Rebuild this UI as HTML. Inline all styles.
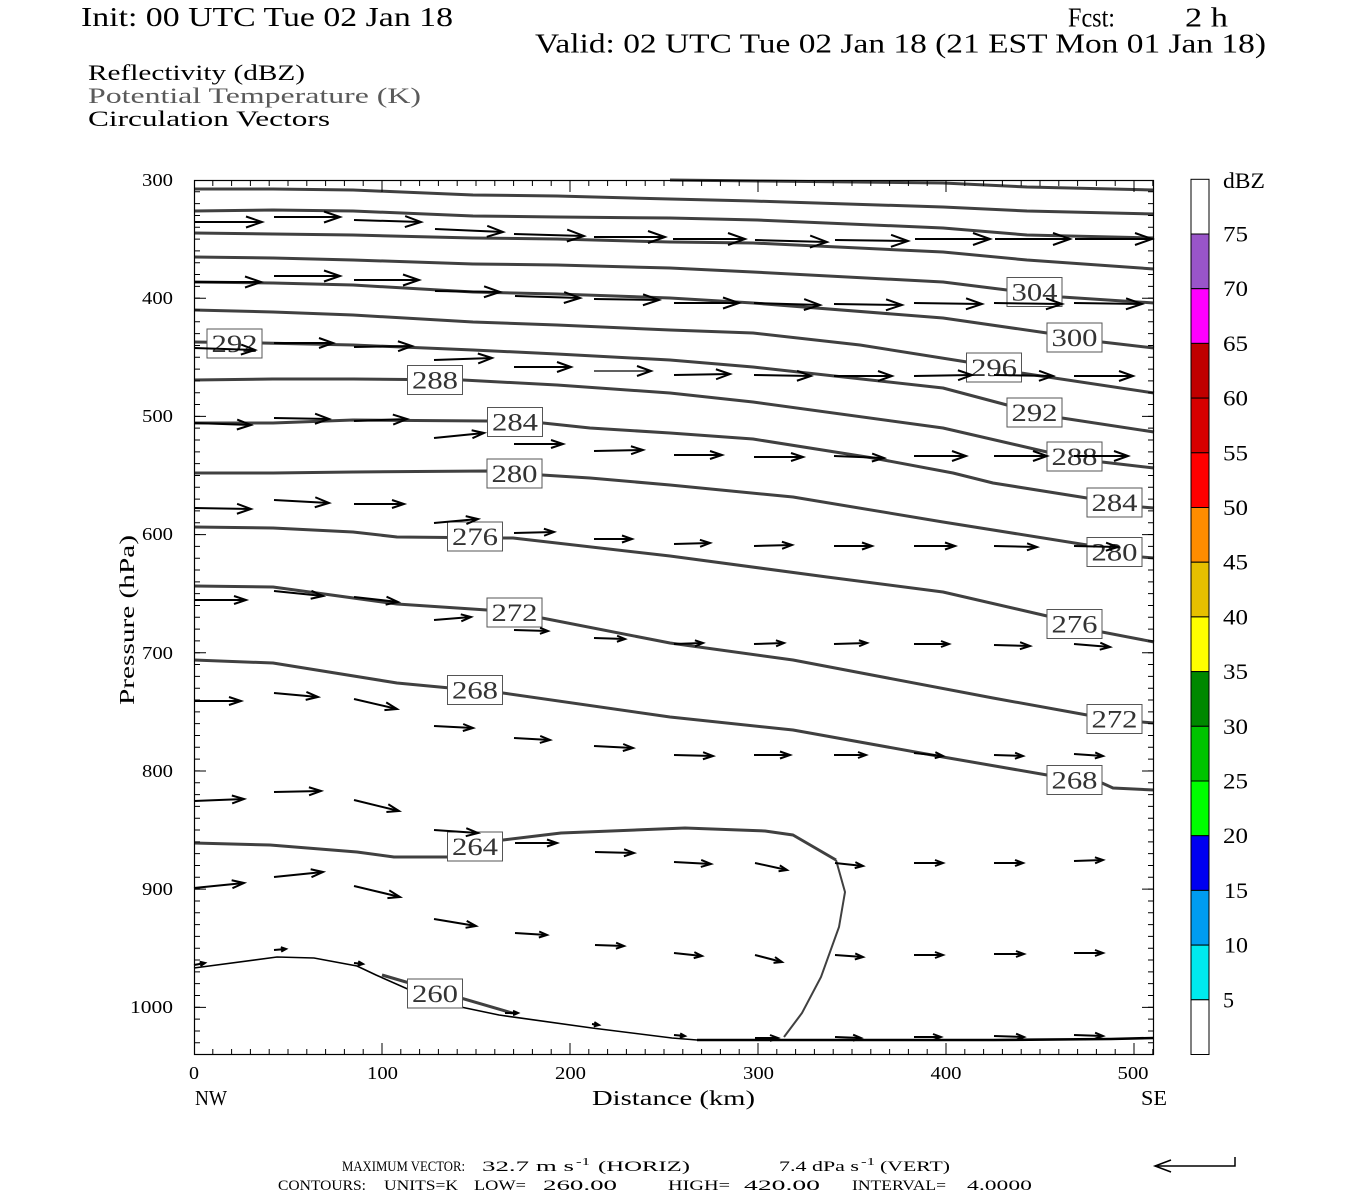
<!DOCTYPE html>
<html><head><meta charset="utf-8"><style>
html,body{margin:0;padding:0;background:#fff;}
svg{display:block;}
text{font-family:"Liberation Serif",serif;}
</style></head><body>
<svg width="1350" height="1200" viewBox="0 0 1350 1200" xmlns="http://www.w3.org/2000/svg">
<defs>
<marker id="a17" markerWidth="1" markerHeight="1" refX="0" refY="0" orient="auto" markerUnits="userSpaceOnUse" style="overflow:visible"><path d="M-17,-6 L0,0 L-17,6" fill="none" stroke="#000" stroke-width="2"/></marker>
<marker id="a16" markerWidth="1" markerHeight="1" refX="0" refY="0" orient="auto" markerUnits="userSpaceOnUse" style="overflow:visible"><path d="M-16,-5.5 L0,0 L-16,5.5" fill="none" stroke="#000" stroke-width="2"/></marker>
<marker id="a14" markerWidth="1" markerHeight="1" refX="0" refY="0" orient="auto" markerUnits="userSpaceOnUse" style="overflow:visible"><path d="M-14,-5 L0,0 L-14,5" fill="none" stroke="#000" stroke-width="2"/></marker>
<marker id="a12" markerWidth="1" markerHeight="1" refX="0" refY="0" orient="auto" markerUnits="userSpaceOnUse" style="overflow:visible"><path d="M-12,-4 L0,0 L-12,4" fill="none" stroke="#000" stroke-width="2"/></marker>
<marker id="a10" markerWidth="1" markerHeight="1" refX="0" refY="0" orient="auto" markerUnits="userSpaceOnUse" style="overflow:visible"><path d="M-10,-3.5 L0,0 L-10,3.5" fill="none" stroke="#000" stroke-width="2"/></marker>
<marker id="a8" markerWidth="1" markerHeight="1" refX="0" refY="0" orient="auto" markerUnits="userSpaceOnUse" style="overflow:visible"><path d="M-8,-3 L0,0 L-8,3" fill="none" stroke="#000" stroke-width="2"/></marker>
<marker id="a5" markerWidth="1" markerHeight="1" refX="0" refY="0" orient="auto" markerUnits="userSpaceOnUse" style="overflow:visible"><path d="M-5,-2.2 L0,0 L-5,2.2" fill="none" stroke="#000" stroke-width="2"/></marker>
</defs>

<!-- Titles -->
<text x="81" y="26" font-size="27" textLength="372" lengthAdjust="spacingAndGlyphs">Init: 00 UTC Tue 02 Jan 18</text>
<text x="1068" y="26.5" font-size="27" textLength="47" lengthAdjust="spacingAndGlyphs">Fcst:</text>
<text x="1185" y="26.5" font-size="27" textLength="43" lengthAdjust="spacingAndGlyphs">2 h</text>
<text x="535" y="52.5" font-size="27" textLength="731" lengthAdjust="spacingAndGlyphs">Valid: 02 UTC Tue 02 Jan 18 (21 EST Mon 01 Jan 18)</text>
<text x="88" y="80" font-size="22" textLength="217" lengthAdjust="spacingAndGlyphs">Reflectivity (dBZ)</text>
<text x="88" y="103" font-size="22" fill="#5a5a5a" textLength="333" lengthAdjust="spacingAndGlyphs">Potential Temperature (K)</text>
<text x="88" y="126" font-size="22" textLength="242" lengthAdjust="spacingAndGlyphs">Circulation Vectors</text>

<!-- Contours -->
<g fill="none" stroke="#404040" stroke-width="3" stroke-linejoin="round">
<path d="M670,180 L760,181 L943,183 L1027,187 L1154,190"/>
<path d="M194,189 L273,189 L353,190 L473,195 L557,196 L670,199 L753,201 L943,207 L1027,211 L1154,214"/>
<path d="M194,211 L273,210 L353,211 L473,216 L557,217 L670,218 L757,220 L943,228 L1027,235 L1154,238"/>
<path d="M194,233 L273,234 L353,235 L473,238 L557,239 L670,242 L753,243 L943,252 L1027,260 L1154,269"/>
<path d="M194,257 L273,258 L353,260 L473,264 L557,265 L670,268 L753,272 L943,282 L1007,290 L1062,297 L1154,303"/>
<path d="M194,282 L273,283 L353,285 L473,292 L557,294 L670,298 L753,303 L943,318 L1047,333 L1102,342 L1154,348"/>
<path d="M194,310 L273,312 L353,315 L473,322 L557,325 L670,330 L753,333 L860,345 L967,362 L1021,373 L1154,393"/>
<path d="M194,342 L262,343 L353,345 L473,350 L557,354 L670,360 L753,367 L943,388 L1007,405 L1062,418 L1154,432"/>
<path d="M194,380 L273,379 L353,379 L463,380 L557,385 L670,393 L753,402 L943,428 L1047,452 L1102,462 L1154,468"/>
<path d="M194,423 L273,423 L353,420 L487,421 L543,423 L590,428 L670,433 L753,439 L873,458 L953,473 L993,483 L1087,498 L1142,507 L1154,508"/>
<path d="M194,473 L273,473 L353,472 L487,471 L542,475 L590,478 L670,485 L793,497 L943,522 L1087,545 L1142,557 L1154,558"/>
<path d="M194,527 L273,528 L353,532 L397,537 L503,538 L513,538 L670,556 L827,577 L943,592 L1047,616 L1102,632 L1154,642"/>
<path d="M194,586 L273,587 L397,604 L487,610 L542,618 L670,643 L793,660 L993,698 L1087,715 L1142,722 L1154,723"/>
<path d="M194,660 L273,663 L397,683 L503,693 L670,717 L793,730 L943,757 L1047,775 L1102,783 L1113,788 L1154,790"/>
<path d="M194,843 L270,845 L357,852 L394,857 L447,857 L503,840 L561,833 L685,828 L765,831 L793,835 L836,860"/>
<path d="M382,975 L512,1013"/>
</g>
<path d="M836,860 L845,892 L839,927 L821,977 L802,1013 L784,1037" fill="none" stroke="#404040" stroke-width="2"/>
<!-- terrain -->
<path d="M194,968 L277,957 L314,958 L357,966 L376,975 L437,1002 L499,1015 L592,1028 L672,1038 L697,1040 L994,1040 L1111,1039 L1154,1038" fill="none" stroke="#000" stroke-width="1.6"/>
<path d="M697,1040 L994,1040 L1111,1039 L1154,1038" fill="none" stroke="#000" stroke-width="2.6"/>

<!-- Contour labels -->
<g fill="#fff" stroke="#555" stroke-width="1">
<rect x="207" y="329" width="55" height="29"/>
<rect x="407.5" y="365.5" width="55" height="29"/>
<rect x="487.5" y="407.5" width="55" height="29"/>
<rect x="487" y="459" width="55" height="29"/>
<rect x="447.5" y="522" width="55" height="29"/>
<rect x="487" y="598" width="55" height="29"/>
<rect x="447.5" y="675.5" width="55" height="29"/>
<rect x="447.5" y="832" width="55" height="29"/>
<rect x="407.5" y="979" width="55" height="29"/>
<rect x="1007" y="277.5" width="55" height="29"/>
<rect x="1047" y="323" width="55" height="29"/>
<rect x="966.5" y="353" width="55" height="29"/>
<rect x="1007" y="398" width="55" height="29"/>
<rect x="1047" y="442" width="55" height="29"/>
<rect x="1087" y="488" width="55" height="29"/>
<rect x="1087" y="537.5" width="55" height="29"/>
<rect x="1047" y="609.5" width="55" height="29"/>
<rect x="1087" y="704.5" width="55" height="29"/>
<rect x="1047" y="765.5" width="55" height="29"/>
</g>
<g font-size="25" fill="#333" text-anchor="middle">
<text x="234.5" y="352" textLength="46" lengthAdjust="spacingAndGlyphs">292</text>
<text x="435" y="388.5" textLength="46" lengthAdjust="spacingAndGlyphs">288</text>
<text x="515" y="430.5" textLength="46" lengthAdjust="spacingAndGlyphs">284</text>
<text x="514.5" y="482" textLength="46" lengthAdjust="spacingAndGlyphs">280</text>
<text x="475" y="545" textLength="46" lengthAdjust="spacingAndGlyphs">276</text>
<text x="514.5" y="621" textLength="46" lengthAdjust="spacingAndGlyphs">272</text>
<text x="475" y="698.5" textLength="46" lengthAdjust="spacingAndGlyphs">268</text>
<text x="475" y="855" textLength="46" lengthAdjust="spacingAndGlyphs">264</text>
<text x="435" y="1002" textLength="46" lengthAdjust="spacingAndGlyphs">260</text>
<text x="1034.5" y="300.5" textLength="46" lengthAdjust="spacingAndGlyphs">304</text>
<text x="1074.5" y="346" textLength="46" lengthAdjust="spacingAndGlyphs">300</text>
<text x="994" y="376" textLength="46" lengthAdjust="spacingAndGlyphs">296</text>
<text x="1034.5" y="421" textLength="46" lengthAdjust="spacingAndGlyphs">292</text>
<text x="1074.5" y="465" textLength="46" lengthAdjust="spacingAndGlyphs">288</text>
<text x="1114.5" y="511" textLength="46" lengthAdjust="spacingAndGlyphs">284</text>
<text x="1114.5" y="560.5" textLength="46" lengthAdjust="spacingAndGlyphs">280</text>
<text x="1074.5" y="632.5" textLength="46" lengthAdjust="spacingAndGlyphs">276</text>
<text x="1114.5" y="727.5" textLength="46" lengthAdjust="spacingAndGlyphs">272</text>
<text x="1074.5" y="788.5" textLength="46" lengthAdjust="spacingAndGlyphs">268</text>
</g>

<!-- Arrows -->
<g fill="none" stroke="#000" stroke-width="2">
<!-- row 1 -->
<path d="M194,222 L262,222" marker-end="url(#a16)"/>
<path d="M274,217 L340,217" marker-end="url(#a16)"/>
<path d="M354,220 L421,222" marker-end="url(#a16)"/>
<path d="M435,229 L503,232" marker-end="url(#a16)"/>
<path d="M514,234 L584,236" marker-end="url(#a17)"/>
<path d="M594,237 L665,237" marker-end="url(#a17)"/>
<path d="M673,239 L745,239" marker-end="url(#a17)"/>
<path d="M755,240 L827,242" marker-end="url(#a17)"/>
<path d="M835,240 L908,241" marker-end="url(#a17)"/>
<path d="M915,239 L990,239" marker-end="url(#a17)"/>
<path d="M995,239 L1070,239" marker-end="url(#a17)"/>
<path d="M1075,239 L1152,239" marker-end="url(#a17)"/>
<!-- row 2 -->
<path d="M194,282 L261,282" marker-end="url(#a16)"/>
<path d="M274,276 L340,276" marker-end="url(#a16)"/>
<path d="M354,280 L419,280" marker-end="url(#a16)"/>
<path d="M435,291 L500,292" marker-end="url(#a16)"/>
<path d="M515,296 L580,298" marker-end="url(#a16)"/>
<path d="M594,299 L659,300" marker-end="url(#a16)"/>
<path d="M674,303 L739,303" marker-end="url(#a16)"/>
<path d="M754,303 L820,305" marker-end="url(#a16)"/>
<path d="M834,304 L902,305" marker-end="url(#a16)"/>
<path d="M914,303 L982,304" marker-end="url(#a16)"/>
<path d="M994,303 L1062,304" marker-end="url(#a16)"/>
<path d="M1074,303 L1142,304" marker-end="url(#a16)"/>
<!-- row 3 -->
<path d="M194,348 L255,350" marker-end="url(#a14)"/>
<path d="M274,343 L333,343" marker-end="url(#a14)"/>
<path d="M354,347 L412,346" marker-end="url(#a14)"/>
<path d="M434,360 L492,358" marker-end="url(#a14)"/>
<path d="M514,367 L571,367" marker-end="url(#a14)"/>
<path d="M594,371 L651,371" marker-end="url(#a14)" stroke-width="1.3"/>
<path d="M674,375 L730,374" marker-end="url(#a14)"/>
<path d="M754,375 L811,376" marker-end="url(#a14)"/>
<path d="M834,376 L892,376" marker-end="url(#a14)"/>
<path d="M914,376 L972,375" marker-end="url(#a14)"/>
<path d="M994,375 L1053,376" marker-end="url(#a14)"/>
<path d="M1074,376 L1133,376" marker-end="url(#a14)"/>
<!-- row 4 -->
<path d="M194,423 L251,425" marker-end="url(#a14)"/>
<path d="M274,418 L329,419" marker-end="url(#a14)"/>
<path d="M354,421 L407,419" marker-end="url(#a14)"/>
<path d="M434,438 L484,433" marker-end="url(#a12)"/>
<path d="M514,444 L563,444" marker-end="url(#a12)"/>
<path d="M594,451 L643,450" marker-end="url(#a12)"/>
<path d="M674,455 L722,455" marker-end="url(#a12)"/>
<path d="M754,457 L803,457" marker-end="url(#a12)"/>
<path d="M834,456 L884,458" marker-end="url(#a12)"/>
<path d="M914,456 L966,456" marker-end="url(#a14)"/>
<path d="M994,456 L1047,456" marker-end="url(#a14)"/>
<path d="M1074,456 L1128,456" marker-end="url(#a14)"/>
<!-- row 5 -->
<path d="M194,508 L251,509" marker-end="url(#a14)"/>
<path d="M274,500 L329,503" marker-end="url(#a14)"/>
<path d="M354,504 L404,504" marker-end="url(#a12)"/>
<path d="M434,523 L478,519" marker-end="url(#a12)"/>
<path d="M514,533 L554,532" marker-end="url(#a10)"/>
<path d="M594,539 L632,539" marker-end="url(#a10)"/>
<path d="M674,544 L710,543" marker-end="url(#a10)"/>
<path d="M754,546 L792,545" marker-end="url(#a10)"/>
<path d="M834,546 L872,546" marker-end="url(#a10)"/>
<path d="M914,546 L955,546" marker-end="url(#a10)"/>
<path d="M994,546 L1037,547" marker-end="url(#a10)"/>
<path d="M1074,546 L1118,547" marker-end="url(#a12)"/>
<!-- row 6 -->
<path d="M194,600 L246,600" marker-end="url(#a12)"/>
<path d="M274,591 L323,596" marker-end="url(#a12)"/>
<path d="M354,597 L398,602" marker-end="url(#a12)"/>
<path d="M434,620 L471,617" marker-end="url(#a10)"/>
<path d="M514,630 L548,631" marker-end="url(#a8)"/>
<path d="M594,638 L625,639" marker-end="url(#a8)"/>
<path d="M674,644 L703,643" marker-end="url(#a8)"/>
<path d="M754,644 L784,643" marker-end="url(#a8)"/>
<path d="M834,644 L867,643" marker-end="url(#a8)"/>
<path d="M914,644 L949,644" marker-end="url(#a8)"/>
<path d="M994,645 L1030,646" marker-end="url(#a10)"/>
<path d="M1074,644 L1110,647" marker-end="url(#a10)"/>
<!-- row 7 -->
<path d="M194,701 L241,701" marker-end="url(#a12)"/>
<path d="M274,693 L318,697" marker-end="url(#a12)"/>
<path d="M354,699 L397,709" marker-end="url(#a12)"/>
<path d="M434,726 L473,728" marker-end="url(#a10)"/>
<path d="M514,738 L550,740" marker-end="url(#a10)"/>
<path d="M594,746 L633,748" marker-end="url(#a10)"/>
<path d="M674,755 L713,756" marker-end="url(#a10)"/>
<path d="M754,755 L790,755" marker-end="url(#a10)"/>
<path d="M834,755 L866,755" marker-end="url(#a8)"/>
<path d="M914,753 L943,756" marker-end="url(#a8)"/>
<path d="M994,755 L1023,756" marker-end="url(#a8)"/>
<path d="M1074,754 L1103,756" marker-end="url(#a8)"/>
<!-- row 8 -->
<path d="M194,801 L244,799" marker-end="url(#a12)"/>
<path d="M274,792 L321,791" marker-end="url(#a12)"/>
<path d="M354,800 L399,811" marker-end="url(#a12)"/>
<path d="M434,830 L478,833" marker-end="url(#a12)"/>
<path d="M515,843 L557,843" marker-end="url(#a10)"/>
<path d="M595,852 L634,853" marker-end="url(#a10)"/>
<path d="M674,862 L711,864" marker-end="url(#a10)"/>
<path d="M755,863 L787,870" marker-end="url(#a8)"/>
<path d="M835,863 L863,866" marker-end="url(#a8)"/>
<path d="M914,863 L943,863" marker-end="url(#a8)"/>
<path d="M994,863 L1023,863" marker-end="url(#a8)"/>
<path d="M1074,861 L1103,860" marker-end="url(#a8)"/>
<!-- row 9 -->
<path d="M194,888 L244,883" marker-end="url(#a12)"/>
<path d="M274,877 L323,872" marker-end="url(#a12)"/>
<path d="M354,886 L400,897" marker-end="url(#a12)"/>
<path d="M434,919 L476,926" marker-end="url(#a10)"/>
<path d="M515,933 L547,935" marker-end="url(#a8)"/>
<path d="M595,945 L624,946" marker-end="url(#a8)"/>
<path d="M674,953 L702,956" marker-end="url(#a8)"/>
<path d="M755,955 L782,962" marker-end="url(#a8)"/>
<path d="M835,955 L863,957" marker-end="url(#a8)"/>
<path d="M914,955 L943,955" marker-end="url(#a8)"/>
<path d="M994,954 L1024,954" marker-end="url(#a8)"/>
<path d="M1074,953 L1103,953" marker-end="url(#a8)"/>
<!-- row 10 -->
<path d="M194,965 L205,963" marker-end="url(#a5)"/>
<path d="M274,950 L286,949" marker-end="url(#a5)"/>
<path d="M354,963 L363,964" marker-end="url(#a5)"/>
<path d="M505,1013 L518,1013" marker-end="url(#a5)"/>
<path d="M592,1024 L599,1025" marker-end="url(#a5)"/>
<path d="M674,1035 L685,1036" marker-end="url(#a5)"/>
<path d="M755,1038 L778,1038" marker-end="url(#a8)"/>
<path d="M835,1037 L861,1038" marker-end="url(#a8)"/>
<path d="M914,1037 L941,1037" marker-end="url(#a8)"/>
<path d="M994,1036 L1024,1037" marker-end="url(#a8)"/>
<path d="M1074,1035 L1103,1036" marker-end="url(#a8)"/>
</g>

<!-- Frame and ticks -->
<rect x="194.5" y="180.5" width="959" height="874" fill="none" stroke="#000" stroke-width="1.2"/>
<g stroke="#000" fill="none">
<line x1="212.3" y1="1052" x2="1154" y2="1052" stroke-width="6" stroke-dasharray="1 17.8"/>
<line x1="381.5" y1="1049" x2="1154" y2="1049" stroke-width="12" stroke-dasharray="1 187"/>
<line x1="212.3" y1="183" x2="1154" y2="183" stroke-width="6" stroke-dasharray="1 17.8"/>
<line x1="381.5" y1="186" x2="1154" y2="186" stroke-width="12" stroke-dasharray="1 187"/>
<line x1="197" y1="191.3" x2="197" y2="1055" stroke-width="6" stroke-dasharray="1 10.819"/>
<line x1="200" y1="297.7" x2="200" y2="1055" stroke-width="12" stroke-dasharray="1 117.19"/>
<line x1="1151" y1="191.3" x2="1151" y2="1055" stroke-width="6" stroke-dasharray="1 10.819"/>
<line x1="1148" y1="297.7" x2="1148" y2="1055" stroke-width="12" stroke-dasharray="1 117.19"/>
</g>

<!-- Y tick labels -->
<g font-size="18" text-anchor="end">
<text x="173" y="186" textLength="31" lengthAdjust="spacingAndGlyphs">300</text>
<text x="173" y="304" textLength="31" lengthAdjust="spacingAndGlyphs">400</text>
<text x="173" y="422" textLength="31" lengthAdjust="spacingAndGlyphs">500</text>
<text x="173" y="540" textLength="31" lengthAdjust="spacingAndGlyphs">600</text>
<text x="173" y="659" textLength="31" lengthAdjust="spacingAndGlyphs">700</text>
<text x="173" y="777" textLength="31" lengthAdjust="spacingAndGlyphs">800</text>
<text x="173" y="895" textLength="31" lengthAdjust="spacingAndGlyphs">900</text>
<text x="173" y="1013" textLength="43" lengthAdjust="spacingAndGlyphs">1000</text>
</g>
<!-- X tick labels -->
<g font-size="18" text-anchor="middle">
<text x="194" y="1079" textLength="10" lengthAdjust="spacingAndGlyphs">0</text>
<text x="382.5" y="1079" textLength="31" lengthAdjust="spacingAndGlyphs">100</text>
<text x="570.5" y="1079" textLength="31" lengthAdjust="spacingAndGlyphs">200</text>
<text x="758.5" y="1079" textLength="31" lengthAdjust="spacingAndGlyphs">300</text>
<text x="946" y="1079" textLength="31" lengthAdjust="spacingAndGlyphs">400</text>
<text x="1133" y="1079" textLength="31" lengthAdjust="spacingAndGlyphs">500</text>
</g>
<text x="195" y="1105" font-size="21" textLength="32" lengthAdjust="spacingAndGlyphs">NW</text>
<text x="592" y="1105" font-size="21" textLength="163" lengthAdjust="spacingAndGlyphs">Distance (km)</text>
<text x="1141" y="1105" font-size="21" textLength="26" lengthAdjust="spacingAndGlyphs">SE</text>
<text transform="translate(134,620) rotate(-90)" x="0" y="0" font-size="21" text-anchor="middle" textLength="170" lengthAdjust="spacingAndGlyphs">Pressure (hPa)</text>

<!-- Colorbar -->
<g stroke="#000" stroke-width="1">
<rect x="1191" y="179.3" width="18" height="54.7" fill="#fff"/>
<rect x="1191" y="234" width="18" height="54.7" fill="#9955c9"/>
<rect x="1191" y="288.7" width="18" height="54.7" fill="#ff00ff"/>
<rect x="1191" y="343.4" width="18" height="54.7" fill="#c00000"/>
<rect x="1191" y="398.1" width="18" height="54.7" fill="#d60000"/>
<rect x="1191" y="452.8" width="18" height="54.7" fill="#ff0000"/>
<rect x="1191" y="507.5" width="18" height="54.7" fill="#ff8c00"/>
<rect x="1191" y="562.2" width="18" height="54.7" fill="#e6c000"/>
<rect x="1191" y="616.9" width="18" height="54.7" fill="#ffff00"/>
<rect x="1191" y="671.6" width="18" height="54.7" fill="#008800"/>
<rect x="1191" y="726.3" width="18" height="54.7" fill="#00c400"/>
<rect x="1191" y="781" width="18" height="54.7" fill="#00ff00"/>
<rect x="1191" y="835.7" width="18" height="54.7" fill="#0000f0"/>
<rect x="1191" y="890.4" width="18" height="54.7" fill="#009cf0"/>
<rect x="1191" y="945.1" width="18" height="54.7" fill="#00eaee"/>
<rect x="1191" y="999.8" width="18" height="54.7" fill="#fff"/>
</g>
<g font-size="22">
<text x="1223" y="188" textLength="42" lengthAdjust="spacingAndGlyphs">dBZ</text>
<text x="1223" y="241.5" textLength="25" lengthAdjust="spacingAndGlyphs">75</text>
<text x="1223" y="296" textLength="25" lengthAdjust="spacingAndGlyphs">70</text>
<text x="1223" y="351" textLength="25" lengthAdjust="spacingAndGlyphs">65</text>
<text x="1223" y="405.5" textLength="25" lengthAdjust="spacingAndGlyphs">60</text>
<text x="1223" y="460.3" textLength="25" lengthAdjust="spacingAndGlyphs">55</text>
<text x="1223" y="515" textLength="25" lengthAdjust="spacingAndGlyphs">50</text>
<text x="1223" y="569.7" textLength="25" lengthAdjust="spacingAndGlyphs">45</text>
<text x="1223" y="624.4" textLength="25" lengthAdjust="spacingAndGlyphs">40</text>
<text x="1223" y="679" textLength="25" lengthAdjust="spacingAndGlyphs">35</text>
<text x="1223" y="733.8" textLength="25" lengthAdjust="spacingAndGlyphs">30</text>
<text x="1223" y="788.5" textLength="25" lengthAdjust="spacingAndGlyphs">25</text>
<text x="1223" y="843.2" textLength="25" lengthAdjust="spacingAndGlyphs">20</text>
<text x="1224" y="898" textLength="24" lengthAdjust="spacingAndGlyphs">15</text>
<text x="1224" y="952.6" textLength="24" lengthAdjust="spacingAndGlyphs">10</text>
<text x="1223" y="1007.3" textLength="11" lengthAdjust="spacingAndGlyphs">5</text>
</g>

<!-- Footer -->
<g font-size="15">
<text x="342" y="1171" textLength="123" lengthAdjust="spacingAndGlyphs">MAXIMUM VECTOR:</text>
<text x="482" y="1171" textLength="92" lengthAdjust="spacingAndGlyphs">32.7 m s</text>
<text x="576" y="1165" font-size="11" textLength="14" lengthAdjust="spacingAndGlyphs">-1</text>
<text x="598" y="1171" textLength="92" lengthAdjust="spacingAndGlyphs">(HORIZ)</text>
<text x="779" y="1171" textLength="80" lengthAdjust="spacingAndGlyphs">7.4 dPa s</text>
<text x="861" y="1165" font-size="11" textLength="14" lengthAdjust="spacingAndGlyphs">-1</text>
<text x="880" y="1171" textLength="70" lengthAdjust="spacingAndGlyphs">(VERT)</text>
<text x="278" y="1190" textLength="88" lengthAdjust="spacingAndGlyphs">CONTOURS:</text>
<text x="384" y="1190" textLength="74" lengthAdjust="spacingAndGlyphs">UNITS=K</text>
<text x="474" y="1190" textLength="52" lengthAdjust="spacingAndGlyphs">LOW=</text>
<text x="543" y="1190" textLength="74" lengthAdjust="spacingAndGlyphs">260.00</text>
<text x="668" y="1190" textLength="62" lengthAdjust="spacingAndGlyphs">HIGH=</text>
<text x="744" y="1190" textLength="76" lengthAdjust="spacingAndGlyphs">420.00</text>
<text x="852" y="1190" textLength="94" lengthAdjust="spacingAndGlyphs">INTERVAL=</text>
<text x="967" y="1190" textLength="65" lengthAdjust="spacingAndGlyphs">4.0000</text>
</g>
<g fill="none" stroke="#000" stroke-width="1.5">
<path d="M1155,1166 L1235,1166 L1235,1157"/>
<path d="M1171,1160 L1155,1166 L1171,1172"/>
</g>
</svg>
</body></html>
